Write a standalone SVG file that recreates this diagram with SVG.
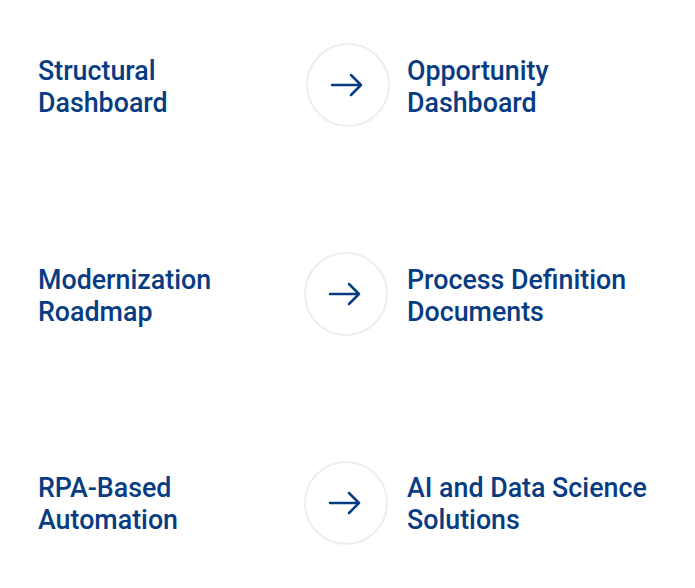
<svg xmlns="http://www.w3.org/2000/svg" width="695" height="588" viewBox="0 0 695 588">
<defs>
<style>
.t{font-family:Roboto,"Liberation Sans",sans-serif;font-weight:500;font-size:26.8px;fill:#083c82}
.c{fill:#fff;stroke:#eeeeee;stroke-width:2}
.a{fill:none;stroke:#083c82;stroke-width:2.5;stroke-linecap:round;stroke-linejoin:round}
</style>
</defs>
<rect width="695" height="588" fill="#fff"/>
<g id="structural"><text class="t" x="38" y="80">Structural<tspan x="38" dy="31.5">Dashboard</tspan></text></g>
<g id="opportunity"><text class="t" x="407" y="80">Opportunity<tspan x="407" dy="31.5">Dashboard</tspan></text></g>
<g id="modernization"><text class="t" x="38" y="289">Modernization<tspan x="38" dy="31.5">Roadmap</tspan></text></g>
<g id="pdd"><text class="t" x="407" y="289">Process Definition<tspan x="407" dy="31.5">Documents</tspan></text></g>
<g id="rpa"><text class="t" x="38" y="497">RPA-Based<tspan x="38" dy="31.5">Automation</tspan></text></g>
<g id="ai"><text class="t" x="407" y="497">AI and Data Science<tspan x="407" dy="31.5">Solutions</tspan></text></g>
<g id="connectors">
<circle class="c" cx="348" cy="85" r="41"/>
<path class="a" d="M332 85H361M351 75L361 85L351 95"/>
<circle class="c" cx="346" cy="294" r="41"/>
<path class="a" d="M330 294H359M349 284L359 294L349 304"/>
<circle class="c" cx="346" cy="503" r="41"/>
<path class="a" d="M330 503H359M349 493L359 503L349 513"/>
</g>
</svg>
